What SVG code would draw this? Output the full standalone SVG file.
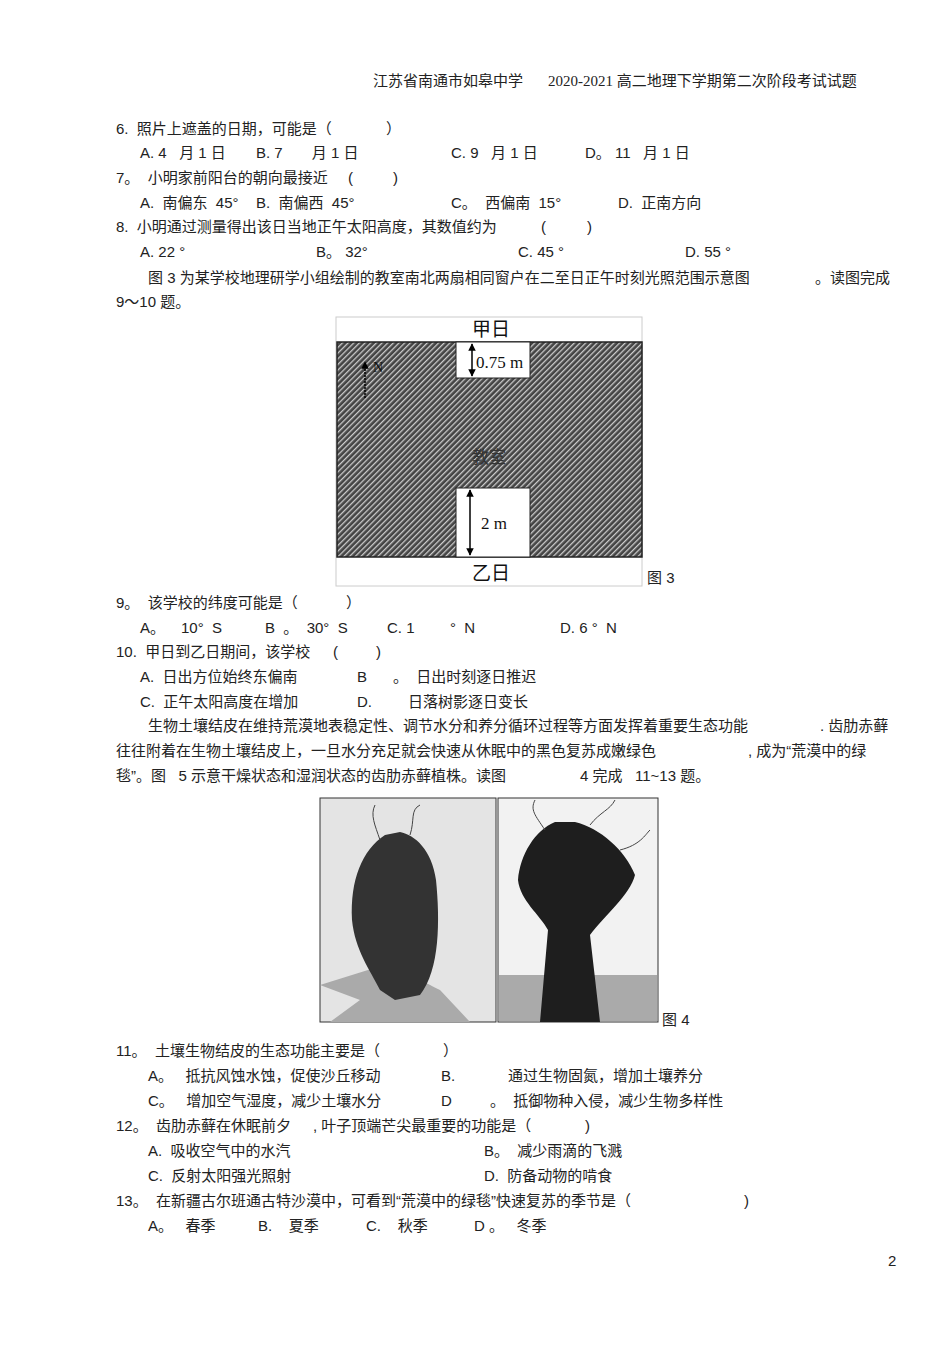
<svg xmlns="http://www.w3.org/2000/svg" width="950" height="1345" viewBox="0 0 950 1345">
<defs>
<style>
text{font-family:"Liberation Serif","Noto Sans CJK SC",serif;font-size:15px;fill:#222;white-space:pre}
.s text,text.s{font-family:"Liberation Sans","Noto Sans CJK SC",sans-serif}
text.f{font-family:"Liberation Serif","Noto Sans CJK SC",serif;font-size:17px;fill:#111}
</style>
<pattern id="h" width="4" height="4" patternUnits="userSpaceOnUse" patternTransform="rotate(45)">
<rect width="4" height="4" fill="#444"/><rect width="1.3" height="4" fill="#ccc"/>
</pattern>
<marker id="a" viewBox="0 0 10 10" refX="9" refY="5" markerWidth="5" markerHeight="7" orient="auto-start-reverse"><path d="M0,0L10,5L0,10z" fill="#000"/></marker>
</defs>
<rect width="950" height="1345" fill="#fff"/>
<text x="373" y="86">江苏省南通市如皋中学<tspan x="548">2020-2021 高二地理下学期第二次阶段考试试题</tspan></text>
<g class="s">
<text x="116" y="134">6.  照片上遮盖的日期，可能是（<tspan x="386">）</tspan></text>
<text x="140" y="158">A. 4   月 1 日<tspan x="256">B. 7       月 1 日</tspan><tspan x="451">C. 9   月 1 日</tspan><tspan x="585">D。 11   月 1 日</tspan></text>
<text x="116" y="183">7。  小明家前阳台的朝向最接近<tspan x="348">(</tspan><tspan x="393">)</tspan></text>
<text x="140" y="208">A.  南偏东  45°<tspan x="256">B.  南偏西  45°</tspan><tspan x="451">C。  西偏南  15°</tspan><tspan x="618">D.  正南方向</tspan></text>
<text x="116" y="232">8.  小明通过测量得出该日当地正午太阳高度，其数值约为<tspan x="541">(</tspan><tspan x="587">)</tspan></text>
<text x="140" y="257">A. 22 °<tspan x="316">B。 32°</tspan><tspan x="518">C. 45 °</tspan><tspan x="685">D. 55 °</tspan></text>
<text x="148" y="283">图 3 为某学校地理研学小组绘制的教室南北两扇相同窗户在二至日正午时刻光照范围示意图<tspan x="815">。读图完成</tspan></text>
<text x="116" y="307">9～10 题。</text>
</g>
<g id="fig3">
<rect x="336" y="317" width="306" height="269" fill="#fff" stroke="#ccc"/>
<rect x="337" y="342" width="305" height="215" fill="url(#h)" stroke="#222" stroke-width="1.5"/>
<rect x="456" y="342" width="74" height="36" fill="#fff" stroke="#222"/>
<rect x="456" y="488" width="74" height="69" fill="#fff" stroke="#222"/>
<line x1="472" y1="344" x2="472" y2="376" stroke="#000" stroke-width="1.5" marker-start="url(#a)" marker-end="url(#a)"/>
<line x1="470" y1="490" x2="470" y2="555" stroke="#000" stroke-width="1.5" marker-start="url(#a)" marker-end="url(#a)"/>
<line x1="365" y1="398" x2="365" y2="362" stroke="#000" stroke-width="1.5" stroke-dasharray="2 1" marker-end="url(#a)"/>
<text class="f" x="373" y="372" style="font-size:14px">N</text>
<text class="f" x="476" y="368">0.75 m</text>
<text class="f" x="481" y="529">2 m</text>
<text class="f" x="472" y="463" style="fill:#333">教室</text>
<text class="f" x="472" y="336" style="font-size:19px">甲日</text>
<text class="f" x="472" y="580" style="font-size:19px">乙日</text>
<text class="s" x="647" y="583">图 3</text>
</g>
<g class="s">
<text x="116" y="608">9。  该学校的纬度可能是（<tspan x="346">）</tspan></text>
<text x="140" y="633">A。<tspan x="181">10°  S</tspan><tspan x="265">B  。  30°  S</tspan><tspan x="387">C. 1</tspan><tspan x="450">°  N</tspan><tspan x="560">D. 6 °  N</tspan></text>
<text x="116" y="657">10.  甲日到乙日期间，该学校<tspan x="333">(</tspan><tspan x="376">)</tspan></text>
<text x="140" y="682">A.  日出方位始终东偏南<tspan x="357">B</tspan><tspan x="393">。  日出时刻逐日推迟</tspan></text>
<text x="140" y="707">C.  正午太阳高度在增加<tspan x="357">D.</tspan><tspan x="408">日落树影逐日变长</tspan></text>
<text x="148" y="731">生物土壤结皮在维持荒漠地表稳定性、调节水分和养分循环过程等方面发挥着重要生态功能<tspan x="820">. 齿肋赤藓</tspan></text>
<text x="116" y="756">往往附着在生物土壤结皮上，一旦水分充足就会快速从休眠中的黑色复苏成嫩绿色<tspan x="748">, 成为“荒漠中的绿</tspan></text>
<text x="116" y="781">毯”。图   5 示意干燥状态和湿润状态的齿肋赤藓植株。读图<tspan x="580">4 完成   11~13 题。</tspan></text>
</g>
<g id="fig4">
<rect x="320" y="798" width="176" height="224" fill="#e4e4e4" stroke="#333"/>
<rect x="498" y="798" width="160" height="224" fill="#f2f2f2" stroke="#333"/>
<rect x="499" y="975" width="158" height="46" fill="#aaa"/>
<path d="M360,1000 L330,1022 L470,1022 L440,990 C420,980 410,975 400,960 L320,985 Z" fill="#aaa"/>
<path d="M385,835 C362,850 350,880 352,920 C355,950 370,970 380,990 L395,1000 L420,995 C440,970 440,920 436,880 C432,850 415,835 400,832 Z" fill="#333"/>
<path d="M555,822 C535,830 520,855 518,880 C520,900 540,915 548,930 L540,1022 L600,1022 L590,935 C605,915 630,895 635,875 C625,850 600,828 575,822 Z" fill="#1e1e1e"/>
<g stroke="#444" fill="none"><path d="M380,840 C375,825 370,815 375,805"/><path d="M410,835 C415,820 410,810 420,805"/><path d="M545,830 C535,815 530,810 535,800"/><path d="M590,825 C600,812 610,810 615,800"/><path d="M620,850 C640,845 645,835 650,830"/></g>
<text class="s" x="662" y="1025">图 4</text>
</g>
<g class="s">
<text x="116" y="1056">11。  土壤生物结皮的生态功能主要是（<tspan x="443">）</tspan></text>
<text x="148" y="1081">A。   抵抗风蚀水蚀，促使沙丘移动<tspan x="441">B.</tspan><tspan x="508">通过生物固氮，增加土壤养分</tspan></text>
<text x="148" y="1106">C。   增加空气湿度，减少土壤水分<tspan x="441">D</tspan><tspan x="490">。  抵御物种入侵，减少生物多样性</tspan></text>
<text x="116" y="1131">12。  齿肋赤藓在休眠前夕<tspan x="313">, 叶子顶端芒尖最重要的功能是（</tspan><tspan x="585">)</tspan></text>
<text x="148" y="1156">A.  吸收空气中的水汽<tspan x="484">B。  减少雨滴的飞溅</tspan></text>
<text x="148" y="1181">C.  反射太阳强光照射<tspan x="484">D.  防备动物的啃食</tspan></text>
<text x="116" y="1206">13。  在新疆古尔班通古特沙漠中，可看到“荒漠中的绿毯”快速复苏的季节是（<tspan x="744">)</tspan></text>
<text x="148" y="1231">A。   春季<tspan x="258">B.    夏季</tspan><tspan x="366">C.    秋季</tspan><tspan x="474">D 。   冬季</tspan></text>
<text x="888" y="1266">2</text>
</g>
</svg>
